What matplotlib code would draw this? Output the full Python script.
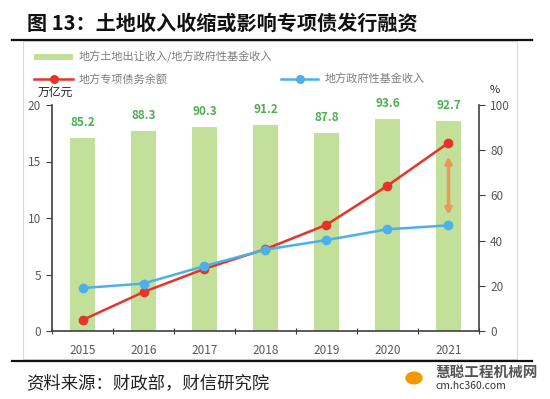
import matplotlib
matplotlib.use("Agg")
import matplotlib.pyplot as plt
from matplotlib.patches import Rectangle, Circle
from matplotlib.lines import Line2D
from matplotlib.transforms import Affine2D

plt.rcParams['font.family'] = ['Noto Sans CJK SC', 'DejaVu Sans']

years = ['2015', '2016', '2017', '2018', '2019', '2020', '2021']
land_ratio = [85.2, 88.3, 90.3, 91.2, 87.8, 93.6, 92.7]          # %, right axis
special_debt = [0.97, 3.45, 5.5, 7.25, 9.4, 12.86, 16.66]        # 万亿元
fund_revenue = [3.8, 4.2, 5.75, 7.2, 8.05, 9.0, 9.35]            # 万亿元

GREEN = '#C2E09A'
GREEN_TXT = '#4CAF50'
RED = '#E8322B'
BLUE = '#4DB0EA'
GRAY = '#595959'
AX = '#404040'

fig = plt.figure(figsize=(5.5, 3.99), dpi=100)
W, H = 550, 399

def fx(x):
    return x / W

def fy(y):
    return 1 - y / H

# title
fig.text(fx(27), fy(23), '图 13：土地收入收缩或影响专项债发行融资', fontsize=14.5,
         fontweight='bold', va='center', ha='left', color='#111111')
fig.add_artist(Line2D([fx(12), fx(532)], [fy(40), fy(40)], color='#111111', lw=1.6))
fig.add_artist(Line2D([fx(12), fx(532)], [fy(361), fy(361)], color='#111111', lw=1.6))
# panel border
fig.add_artist(Rectangle((fx(23), fy(359)), fx(517) - fx(23), fy(41) - fy(359),
                         fill=False, edgecolor='#D9D9D9', lw=0.8))

ax = fig.add_axes([fx(52), fy(331), fx(479) - fx(52), fy(105) - fy(331)])
ax2 = ax.twinx()

x = list(range(len(years)))
ax2.bar(x, land_ratio, width=0.4, color=GREEN, zorder=1)
for xi, v in zip(x, land_ratio):
    ax2.text(xi, v + 4, f'{v:.1f}', ha='center', va='bottom', fontsize=8.5,
             fontweight='bold', color=GREEN_TXT)
ax2.set_ylim(0, 100)
ax2.set_yticks([0, 20, 40, 60, 80, 100])

ax.set_zorder(ax2.get_zorder() + 1)
ax.patch.set_visible(False)
ax.plot(x, special_debt, color=RED, lw=1.8, marker='o', ms=6, zorder=3)
ax.plot(x, fund_revenue, color=BLUE, lw=1.8, marker='o', ms=6, zorder=3)
ax.annotate('', xy=(x[-1], special_debt[-1] - 1.2), xytext=(x[-1], fund_revenue[-1] + 0.9),
            arrowprops=dict(arrowstyle='<|-|>', color='#E89A5A', lw=2.5,
                            mutation_scale=9, shrinkA=0, shrinkB=0))
ax.set_ylim(0, 20)
ax.set_yticks([0, 5, 10, 15, 20])
ax.set_xlim(-0.5, len(years) - 0.5)
ax.set_xticks([i - 0.5 for i in range(len(years) + 1)])
ax.set_xticklabels([])
ax.set_xticks(x, minor=True)
ax.set_xticklabels(years, minor=True)
ax.tick_params(axis='x', which='minor', length=0, labelsize=8.5, labelcolor=GRAY, pad=9)
ax.tick_params(axis='x', which='major', length=4, color=AX, direction='inout')

for a in (ax, ax2):
    for s in a.spines.values():
        s.set_visible(False)
ax.spines['left'].set_visible(True)
ax.spines['bottom'].set_visible(True)
ax2.spines['right'].set_visible(True)
for s in (ax.spines['left'], ax.spines['bottom'], ax2.spines['right']):
    s.set_color(AX)
    s.set_linewidth(1.2)
ax.tick_params(axis='y', length=4, color=AX, labelsize=8.5, labelcolor=GRAY, pad=4)
ax2.tick_params(axis='y', length=4, color=AX, labelsize=8.5, labelcolor=GRAY, pad=4)

fig.text(fx(38), fy(92), '万亿元', fontsize=8.5, color='#222222', va='center', ha='left')
fig.text(fx(490), fy(90), '%', fontsize=8, color='#222222', va='center', ha='left')

# legend
fig.add_artist(Rectangle((fx(34), fy(60)), fx(73) - fx(34), fy(54) - fy(60),
                         color=GREEN, lw=0))
fig.text(fx(79), fy(57), '地方土地出让收入/地方政府性基金收入', fontsize=8, color='#7F7F7F',
         va='center', ha='left')
fig.add_artist(Line2D([fx(34), fx(73)], [fy(79), fy(79)], color=RED, lw=1.8))
fig.add_artist(Line2D([fx(53.5)], [fy(79)], color=RED, marker='o', ms=5.5, lw=0))
fig.text(fx(79), fy(79), '地方专项债务余额', fontsize=8, color='#7F7F7F', va='center', ha='left')
fig.add_artist(Line2D([fx(281), fx(318)], [fy(79), fy(79)], color=BLUE, lw=1.8))
fig.add_artist(Line2D([fx(299.5)], [fy(79)], color=BLUE, marker='o', ms=5.5, lw=0))
fig.text(fx(325), fy(79), '地方政府性基金收入', fontsize=8, color='#7F7F7F', va='center', ha='left')

# source (faux italic via skew around its baseline)
y0 = H - 383
src = fig.text(fx(26), fy(383), '资料来源：财政部，财信研究院', fontsize=12.5, color='#222222',
               va='center', ha='left')
src.set_transform(fig.transFigure + Affine2D().translate(0, -y0).skew_deg(12, 0).translate(0, y0))

# watermark
fig.add_artist(Circle((fx(414), fy(378)), 8 / W, color='#F39800', transform=fig.transFigure))
fig.text(fx(435), fy(372), '慧聪工程机械网', fontsize=10.5, fontweight='bold', color='#555555',
         va='center', ha='left')
fig.text(fx(435), fy(386), 'cm.hc360.com', fontsize=7.5, color='#333333', va='center', ha='left')

fig.savefig('out.png', dpi=100)
